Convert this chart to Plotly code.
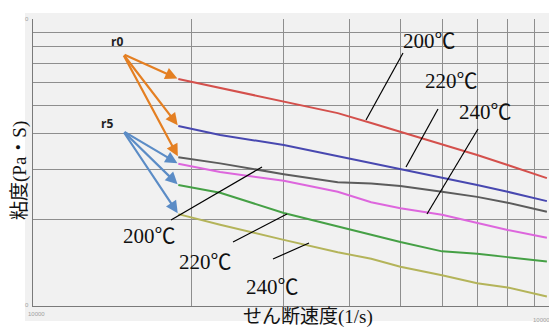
import math
import plotly.graph_objects as go

# ---------------- data ----------------
shear_rate = [18900, 22700, 30000, 38000, 44000, 50000, 60000, 70000, 80000, 95000]

visc_r0_200 = [61.8, 57.5, 51.8, 47.0, 43.4, 40.4, 36.7, 33.6, 31.0, 27.9]
visc_r0_220 = [42.4, 39.4, 36.4, 33.3, 31.5, 30.0, 27.9, 26.4, 25.0, 23.2]
visc_r0_240 = [33.0, 31.4, 28.8, 27.0, 26.7, 26.2, 25.0, 24.0, 22.9, 21.3]
visc_r5_200 = [31.3, 29.3, 27.3, 25.0, 23.0, 21.9, 20.8, 19.5, 18.4, 17.3]
visc_r5_220 = [26.4, 24.8, 21.1, 18.9, 17.7, 16.7, 15.5, 15.2, 14.8, 14.3]
visc_r5_240 = [20.9, 19.2, 17.0, 15.4, 14.6, 13.7, 12.8, 12.0, 11.6, 10.8]

series_names = ["r0 200℃", "r0 220℃", "r0 240℃", "r5 200℃", "r5 220℃", "r5 240℃"]
series_values = [visc_r0_200, visc_r0_220, visc_r0_240, visc_r5_200, visc_r5_220, visc_r5_240]
series_colors = ["#d4504c", "#4848b0", "#5c5c5c", "#dd66dd", "#45a045", "#b4b45a"]

temp_labels = ["200℃", "220℃", "240℃"]
group_labels = ["r0", "r5"]
x_tick_labels = ["10000", "100000"]
y_tick_labels = ["0", "0"]
x_title = "せん断速度(1/s)"
y_title = "粘度(Pa・S)"

# ---------------- layout geometry ----------------
# The page body has an 8px margin, so the figure starts at (8, 8) of the window.
OFF = 8
WIN_W, WIN_H = 557, 327
W, H = WIN_W - OFF, WIN_H - OFF
PLOT_L, PLOT_T, PLOT_B = 33, 19, 306           # window pixels
L, T, B, R = PLOT_L - OFF, PLOT_T - OFF, WIN_H - PLOT_B, 0
PW, PH = W - L - R, H - T - B
XR = [4.0, 4.0 + PW / 525.6]
YR = [1.0, 2.0]


def px(x):
    return (x - PLOT_L) / PW


def py(y):
    return (PLOT_B - y) / PH


def xlog(x):
    return XR[0] + (x - PLOT_L) / PW * (XR[1] - XR[0])


def ylog(y):
    return YR[0] + (PLOT_B - y) / PH * (YR[1] - YR[0])


def label(x, y, text, font, xanchor="center", angle=0):
    return dict(x=px(x), y=py(y), xref="paper", yref="paper", text=text,
                showarrow=False, xanchor=xanchor, yanchor="middle",
                textangle=angle, font=font)


fig = go.Figure()
for name, vals, col in zip(series_names, series_values, series_colors):
    fig.add_trace(go.Scatter(x=shear_rate, y=vals, mode="lines", name=name,
                             line=dict(color=col, width=2), showlegend=False))

shapes = []
# chart area background
shapes.append(dict(type="rect", xref="paper", yref="paper", x0=px(25), x1=px(560),
                   y0=py(321), y1=py(13), fillcolor="#f1f1f1", line=dict(width=0),
                   layer="below"))

annotations = []
serif = "Liberation Serif, Noto Sans CJK JP, serif"

# arrows from group labels to series starts
origins = [(123, 54), (123, 131)]
group_label_pos = [(116.5, 41), (107, 123)]
arrow_cols = ["#e47f22", "#5b8cc6"]
for g in range(2):
    ox, oy = origins[g]
    for k in range(3):
        vals = series_values[g * 3 + k]
        annotations.append(dict(
            x=math.log10(shear_rate[0]), y=math.log10(vals[0]), xref="x", yref="y",
            ax=xlog(ox), ay=ylog(oy), axref="x", ayref="y", text="", showarrow=True,
            arrowhead=2, arrowsize=1.1, arrowwidth=2.2, arrowcolor=arrow_cols[g],
            standoff=1))
    gx, gy = group_label_pos[g]
    annotations.append(label(gx, gy, "<b>%s</b>" % group_labels[g],
                             dict(family="Open Sans, sans-serif", size=12, color="#222")))

# temperature labels and leader lines
label_pos = [(429, 41), (451, 81), (485, 112), (149, 236), (205, 262), (272, 287)]
leaders = [((403, 53), (366, 120)), ((438, 109), (406, 167)), ((478, 129), (427, 214)),
           ((171, 220), (262, 167)), ((233, 242), (287, 214)), ((273, 259), (309, 243))]
for i, (lx, ly) in enumerate(label_pos):
    annotations.append(label(lx, ly, temp_labels[i % 3],
                             dict(family=serif, size=21, color="#111")))
    (a, b), (c, d) = leaders[i]
    shapes.append(dict(type="line", xref="paper", yref="paper", x0=px(a), y0=py(b),
                       x1=px(c), y1=py(d), line=dict(color="#000", width=1.2)))

# tiny tick labels
tick_font = dict(family="Liberation Sans, sans-serif", size=6, color="#a0a0a0")
annotations.append(label(26, 314, x_tick_labels[0], tick_font, xanchor="left"))
annotations.append(label(556, 320, x_tick_labels[1], tick_font, xanchor="right"))
annotations.append(label(27, 305, y_tick_labels[0], tick_font))
annotations.append(label(27, 19, y_tick_labels[1], tick_font))

# axis titles
annotations.append(label(308, 317, x_title, dict(family=serif, size=19, color="#111")))
annotations.append(label(20, 171, y_title, dict(family=serif, size=19, color="#111"),
                         angle=-90))

grid_x = [1e4 * k for k in range(1, 11)]
grid_y = [10 * k for k in range(1, 11)]

fig.update_layout(
    width=W, height=H, margin=dict(l=L, r=R, t=T, b=B, pad=0),
    paper_bgcolor="#ffffff", plot_bgcolor="rgba(0,0,0,0)",
    shapes=shapes, annotations=annotations,
    xaxis=dict(type="log", range=XR, tickvals=grid_x, showticklabels=False, ticks="",
               showgrid=True, gridcolor="#8e8e8e", gridwidth=1, zeroline=False,
               showline=True, linecolor="#7a7a7a", linewidth=1),
    yaxis=dict(type="log", range=YR, tickvals=grid_y, showticklabels=False, ticks="",
               showgrid=True, gridcolor="#8e8e8e", gridwidth=1, zeroline=False,
               showline=True, linecolor="#7a7a7a", linewidth=1),
)

fig.write_html("out.html")
